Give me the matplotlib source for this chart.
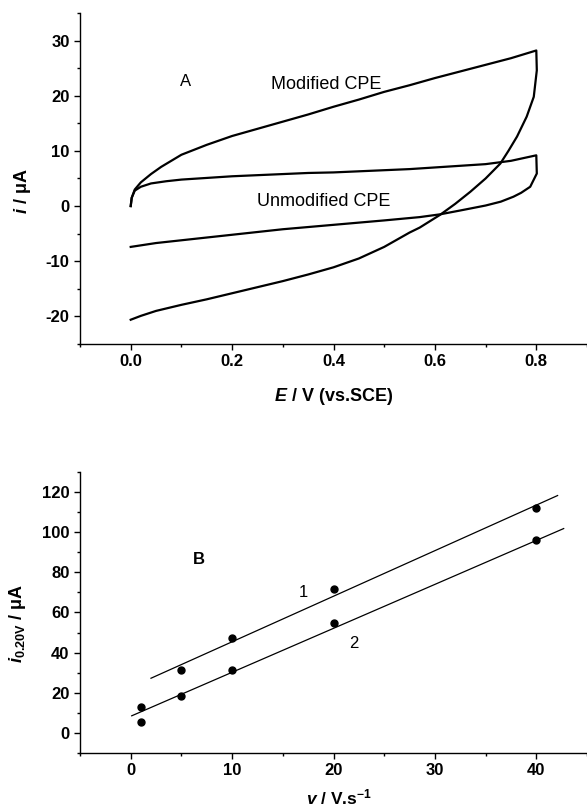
import numpy as np
import matplotlib.pyplot as plt
from matplotlib.ticker import MultipleLocator

plt.rcParams['font.family'] = ['Liberation Sans', 'DejaVu Sans']
plt.rcParams['mathtext.fontset'] = 'custom'
plt.rcParams['mathtext.it'] = 'Liberation Sans:italic:bold'
plt.rcParams['mathtext.rm'] = 'Liberation Sans:bold'
plt.rcParams['mathtext.bf'] = 'Liberation Sans:bold'

# panel A: cyclic voltammograms (E in V, i in uA)
mod_fwd_E = [0.000, 0.002, 0.008, 0.02, 0.04, 0.06, 0.08, 0.10, 0.15, 0.20, 0.25, 0.30,
             0.35, 0.40, 0.45, 0.50, 0.55, 0.60, 0.65, 0.70, 0.75, 0.80]
mod_fwd_i = [0.0, 1.5, 3.0, 4.3, 5.8, 7.1, 8.2, 9.3, 11.1, 12.7, 14.0, 15.3,
             16.6, 18.0, 19.3, 20.7, 21.9, 23.2, 24.4, 25.6, 26.8, 28.2]
mod_rev_E = [0.800, 0.801, 0.795, 0.781, 0.762, 0.745, 0.729, 0.70, 0.67, 0.64, 0.61, 0.57,
             0.55, 0.50, 0.45, 0.40, 0.35, 0.30, 0.25, 0.20, 0.15, 0.10, 0.05, 0.02, 0.00]
mod_rev_i = [28.2, 24.6, 19.8, 16.2, 12.6, 10.0, 7.7, 5.0, 2.6, 0.4, -1.6, -3.9,
             -4.8, -7.4, -9.5, -11.1, -12.4, -13.6, -14.7, -15.8, -16.9, -17.9, -19.0, -19.9, -20.6]

unmod_fwd_E = [0.000, 0.002, 0.008, 0.02, 0.04, 0.07, 0.10, 0.15, 0.20, 0.25, 0.30, 0.35,
               0.40, 0.45, 0.50, 0.55, 0.60, 0.65, 0.70, 0.75, 0.80]
unmod_fwd_i = [0.0, 1.5, 2.8, 3.5, 4.1, 4.5, 4.8, 5.1, 5.4, 5.6, 5.8, 6.0,
               6.1, 6.3, 6.5, 6.7, 7.0, 7.3, 7.6, 8.2, 9.2]
unmod_rev_E = [0.800, 0.801, 0.788, 0.770, 0.755, 0.73, 0.70, 0.65, 0.61, 0.57, 0.50, 0.45,
               0.40, 0.35, 0.30, 0.25, 0.20, 0.15, 0.10, 0.05, 0.00]
unmod_rev_i = [9.2, 5.9, 3.5, 2.4, 1.7, 0.8, 0.1, -0.8, -1.5, -2.0, -2.6, -3.0,
               -3.4, -3.8, -4.2, -4.7, -5.2, -5.7, -6.2, -6.7, -7.4]

# panel B: current at 0.20 V vs scan rate
scan_rate = [1, 5, 10, 20, 40]
i_curve1 = [12.7, 31.5, 47.3, 71.6, 112.3]
i_curve2 = [5.5, 18.5, 31.5, 55.0, 96.0]
# fitted lines: (slope, intercept, v_start, v_end)
fit1 = (2.27, 22.7, 2.0, 42.1)
fit2 = (2.19, 8.3, 0.1, 42.7)

fig = plt.figure(figsize=(5.87, 8.10), dpi=100)
ax1 = fig.add_axes([0.1363, 0.5753, 0.8637, 0.4087])
ax2 = fig.add_axes([0.1363, 0.0704, 0.8637, 0.3469])

for ax in (ax1, ax2):
    ax.spines['top'].set_visible(False)
    ax.spines['right'].set_visible(False)
    ax.spines['left'].set_linewidth(1.0)
    ax.spines['bottom'].set_linewidth(1.0)
    ax.tick_params(which='major', direction='out', length=4, width=1.0, labelsize=12)
    ax.tick_params(which='minor', direction='out', length=2.5, width=1.0)

# --- A ---
ax1.plot(mod_fwd_E + mod_rev_E, mod_fwd_i + mod_rev_i, color='black', lw=1.6)
ax1.plot(unmod_fwd_E + unmod_rev_E, unmod_fwd_i + unmod_rev_i, color='black', lw=1.6)
ax1.set_xlim(-0.1, 0.9)
ax1.set_ylim(-25, 35)
ax1.set_xticks([0.0, 0.2, 0.4, 0.6, 0.8])
ax1.set_yticks([-20, -10, 0, 10, 20, 30])
ax1.xaxis.set_minor_locator(MultipleLocator(0.1))
ax1.yaxis.set_minor_locator(MultipleLocator(5))
ax1.set_xticklabels(['0.0', '0.2', '0.4', '0.6', '0.8'], fontweight='bold')
ax1.set_yticklabels(['-20', '-10', '0', '10', '20', '30'], fontweight='bold')
ax1.set_xlabel(r'$E$ / V (vs.SCE)', fontsize=13, fontweight='bold')
ax1.set_ylabel(r'$i$ / μA', fontsize=13, fontweight='bold')
ax1.xaxis.set_label_coords(0.5, -0.127)
ax1.yaxis.set_label_coords(-0.093, 0.46)
ax1.text(0.109, 22.6, 'A', fontsize=12, ha='center', va='center')
ax1.text(0.277, 22.0, 'Modified CPE', fontsize=13, ha='left', va='center')
ax1.text(0.25, 0.9, 'Unmodified CPE', fontsize=13, ha='left', va='center')

# --- B ---
for (m, b, v0, v1) in (fit1, fit2):
    vv = np.array([v0, v1])
    ax2.plot(vv, m * vv + b, color='black', lw=0.9)
ax2.plot(scan_rate, i_curve1, 'o', color='black', ms=5)
ax2.plot(scan_rate, i_curve2, 'o', color='black', ms=5)
ax2.set_xlim(-5, 45)
ax2.set_ylim(-10, 130)
ax2.set_xticks([0, 10, 20, 30, 40])
ax2.set_yticks([0, 20, 40, 60, 80, 100, 120])
ax2.xaxis.set_minor_locator(MultipleLocator(5))
ax2.yaxis.set_minor_locator(MultipleLocator(10))
ax2.set_xticklabels(['0', '10', '20', '30', '40'], fontweight='bold')
ax2.set_yticklabels(['0', '20', '40', '60', '80', '100', '120'], fontweight='bold')
ax2.set_xlabel(r'$v$ / V.s$^{\mathrm{-1}}$', fontsize=12.5, fontweight='bold')
ax2.set_ylabel(r'$i_{\mathrm{0.20V}}$ / μA', fontsize=13, fontweight='bold')
ax2.xaxis.set_label_coords(0.51, -0.122)
ax2.yaxis.set_label_coords(-0.103, 0.46)
ax2.text(6.7, 86.6, 'B', fontsize=12, fontweight='bold', ha='center', va='center')
ax2.text(17.0, 69.8, '1', fontsize=12, ha='center', va='center')
ax2.text(22.0, 44.3, '2', fontsize=12, ha='center', va='center')

fig.savefig('out.png', dpi=100)
